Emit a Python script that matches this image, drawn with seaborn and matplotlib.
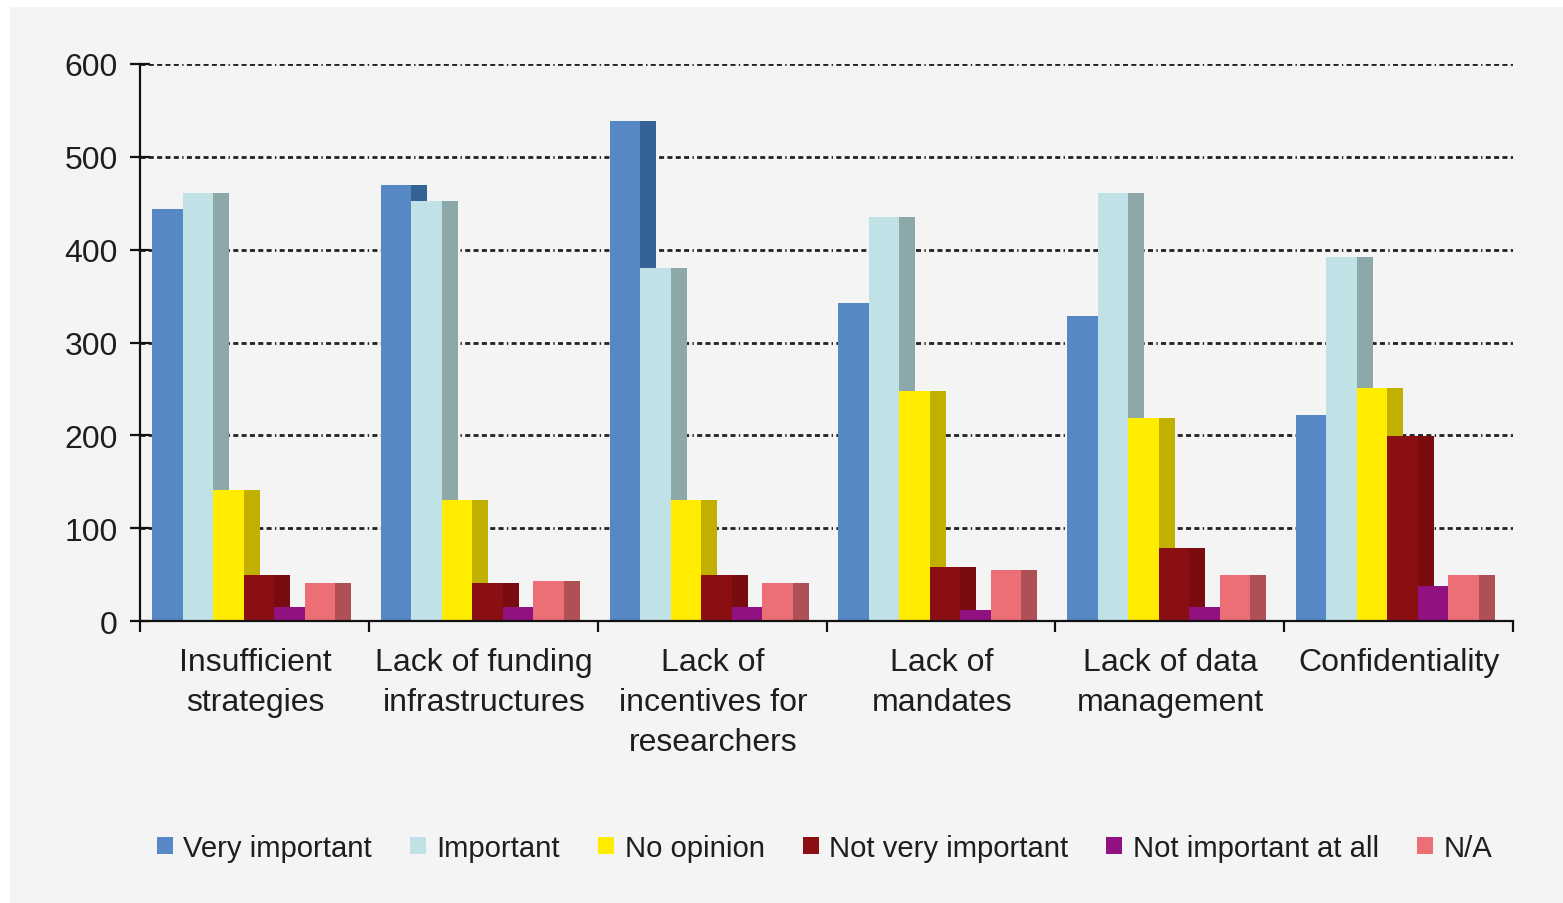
import matplotlib
matplotlib.use("Agg")
import matplotlib.pyplot as plt
from matplotlib.patches import Rectangle, Patch
from matplotlib import font_manager
import seaborn as sns
import pandas as pd
import numpy as np

# ---- data -------------------------------------------------------------
categories = [
    "Insufficient\nstrategies",
    "Lack of funding\ninfrastructures",
    "Lack of\nincentives for\nresearchers",
    "Lack of\nmandates",
    "Lack of data\nmanagement",
    "Confidentiality",
]
series = ["Very important", "Important", "No opinion",
          "Not very important", "Not important at all", "N/A"]

very_important = [444, 470, 539, 343, 329, 222]
important = [461, 452, 380, 435, 461, 392]
no_opinion = [141, 130, 130, 248, 219, 251]
not_very_important = [50, 41, 50, 58, 79, 199]
not_important_at_all = [15, 15, 15, 12, 15, 38]
not_applicable = [41, 43, 41, 55, 50, 50]

y_ticks = [0, 100, 200, 300, 400, 500, 600]

# ---- styling ----------------------------------------------------------
front_colors = ["#5588C4", "#C0E2E6", "#FFEC00", "#8B0E13", "#921180", "#EC6F75"]
side_colors = ["#356294", "#8CA8A9", "#C2B000", "#7A0C10", "#6E0D60", "#AE5056"]
bg = "#f4f4f4"
text_color = "#1e1e1e"

sns.set_theme(style="white")


def pick_font(names):
    for n in names:
        try:
            font_manager.findfont(n, fallback_to_default=False)
            return n
        except Exception:
            continue
    return "DejaVu Sans"


main_font = pick_font(["Liberation Sans", "Arial", "Lato"])
plt.rcParams["font.family"] = [main_font, "DejaVu Sans"]

values = [very_important, important, no_opinion,
          not_very_important, not_important_at_all, not_applicable]
df = pd.DataFrame(
    [(c, s, v) for s, vals in zip(series, values) for c, v in zip(categories, vals)],
    columns=["category", "series", "value"],
)

fig = plt.figure(figsize=(15.63, 9.04), dpi=100, facecolor="white")
fig.patches.append(Rectangle((10 / 1563, 0), 1, (904 - 8) / 904,
                             transform=fig.transFigure, facecolor=bg,
                             edgecolor="none", zorder=-10))
ax = fig.add_axes([140 / 1563, (904 - 622) / 904, 1373 / 1563, 557 / 904])
ax.set_facecolor(bg)

sns.barplot(data=df, x="category", y="value", hue="series",
            order=categories, hue_order=series, palette=front_colors,
            width=0.8, saturation=1, dodge=True, legend=False,
            edgecolor="none", linewidth=0, ax=ax)

# pseudo-3D side faces: each bar gets a darker face on its right,
# tucked underneath the next bar of the group
depth = 0.07
for k, container in enumerate(ax.containers):
    for bar in container:
        bar.set_zorder(3 + 2 * k)
        x, w, h = bar.get_x(), bar.get_width(), bar.get_height()
        ax.add_patch(Rectangle((x + w, 0), depth, h, facecolor=side_colors[k],
                               edgecolor="none", zorder=2 + 2 * k))

# axes frame
shift = 0.049
n = len(categories)
ax.set_xlim(-0.5 + shift - 0.002, n - 0.5 + shift)
ax.set_ylim(0, 600)
ax.set_yticks(y_ticks)
ax.set_yticklabels([str(t) for t in y_ticks])
ax.set_xticks(np.arange(n) + shift * 1.05)
ax.set_xticklabels(categories, linespacing=1.42)
ax.set_xticks(np.arange(n + 1) - 0.5 + shift, minor=True)
ax.set_xlabel("")
ax.set_ylabel("")

for s in ["top", "right"]:
    ax.spines[s].set_visible(False)
for s in ["left", "bottom"]:
    ax.spines[s].set_color("#111111")
    ax.spines[s].set_linewidth(1.6)
    ax.spines[s].set_zorder(30)

ax.tick_params(axis="x", which="major", length=0, pad=19,
               labelsize=23, labelcolor=text_color)
ax.tick_params(axis="x", which="minor", length=8, width=1.6,
               direction="out", color="#111111", bottom=True)
ax.tick_params(axis="y", which="major", length=14, width=1.6,
               direction="inout", color="#111111", left=True, pad=9,
               labelsize=23, labelcolor=text_color)

ax.yaxis.grid(True, color="#222222", linewidth=2.0,
              linestyle=(0, (1.8, 1.2, 1.8, 1.2, 1.8, 1.2, 1.8, 1.2, 1.8, 1.2, 0.5, 1.2)))
ax.xaxis.grid(False)
ax.set_axisbelow(True)
for gl in ax.get_ygridlines():
    gl.set_zorder(1)

# legend with small square swatches
handles = [Patch(facecolor=c, edgecolor="none", label=s)
           for c, s in zip(front_colors, series)]
fig.legend(handles=handles, loc="center", ncol=6,
           bbox_to_anchor=(0.5275, (904 - 849) / 904), frameon=False,
           fontsize=21.1, handlelength=0.55, handleheight=0.55,
           handletextpad=0.35, columnspacing=1.3, labelcolor=text_color)

fig.savefig("out.png", dpi=100, facecolor=fig.get_facecolor())
